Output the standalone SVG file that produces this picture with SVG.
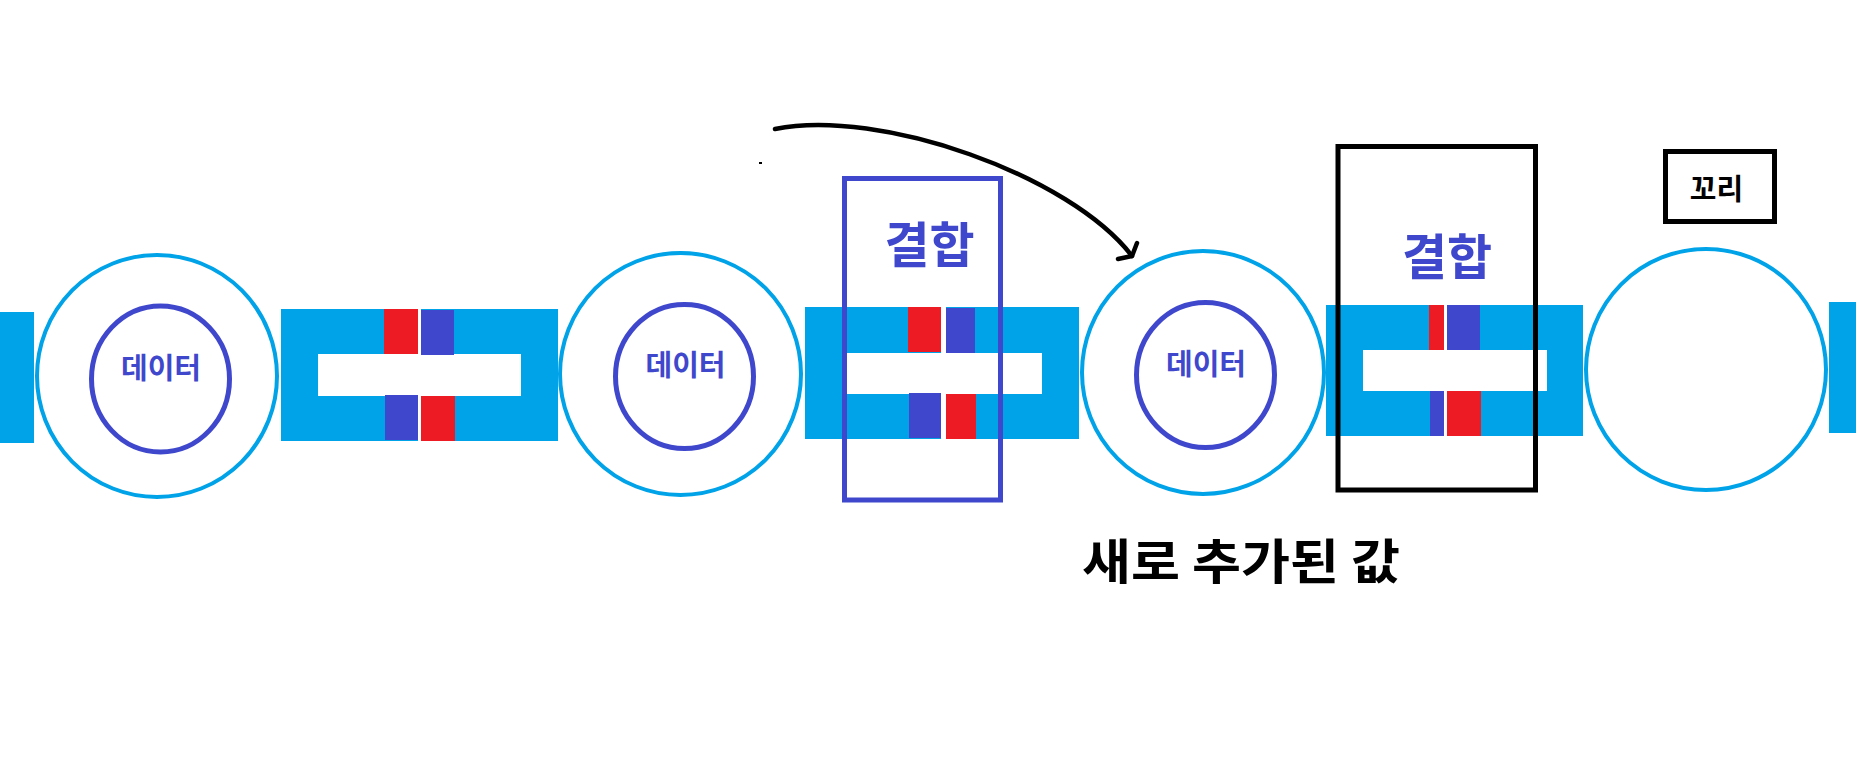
<svg xmlns="http://www.w3.org/2000/svg" width="1873" height="761" viewBox="0 0 1873 761">
<style>
.sky{fill:#00A2E8}
.red{fill:#ED1C24}
.dk{fill:#3F48CC}
.wh{fill:#FFFFFF}
.outer{fill:none;stroke:#00A2E8;stroke-width:4}
.inner{fill:none;stroke:#3F48CC;stroke-width:5}
.lbl{font-family:"Noto Sans CJK KR","Noto Sans",sans-serif;font-weight:700;text-anchor:middle}
.data{font-size:29px;fill:#3F48CC}
.join{font-size:49px;fill:#3F48CC}
.blk{fill:#000000}
</style>
<rect width="1873" height="761" fill="#FFFFFF"/>
<g id="head-bar"><rect class="sky" x="0" y="312" width="34" height="131"/></g>
<g id="node1">
<path class="outer" d="M37,376 a120,121 0 1,0 240,0 a120,121 0 1,0 -240,0 Z"/>
<path class="inner" d="M91.5,379 a69,73 0 1,0 138,0 a69,73 0 1,0 -138,0 Z"/>
<text class="lbl data" x="161" y="379">데이터</text>
</g>
<g id="link1">
<rect class="sky" x="281" y="309" width="277" height="132"/>
<rect class="wh" x="318" y="354" width="203" height="42"/>
<rect class="wh" x="418" y="309" width="3" height="132"/>
<rect class="red" x="384" y="309" width="34" height="45"/>
<rect class="dk" x="421" y="310" width="33" height="45"/>
<rect class="dk" x="385" y="395" width="33" height="45"/>
<rect class="red" x="421" y="396" width="34" height="45"/>
</g>
<g id="node2">
<path class="outer" d="M560,374 a120.5,121 0 1,0 241,0 a120.5,121 0 1,0 -241,0 Z"/>
<path class="inner" d="M615.5,376.5 a69,72 0 1,0 138,0 a69,72 0 1,0 -138,0 Z"/>
<text class="lbl data" x="685.5" y="376">데이터</text>
</g>
<g id="link2">
<rect class="sky" x="805" y="307" width="274" height="132"/>
<rect class="wh" x="842" y="353" width="200" height="41"/>
<rect class="wh" x="941" y="307" width="5" height="132"/>
<rect class="red" x="908" y="307" width="33" height="45"/>
<rect class="dk" x="946" y="308" width="29" height="45"/>
<rect class="dk" x="909" y="393" width="32" height="45"/>
<rect class="red" x="946" y="394" width="30" height="45"/>
<rect x="844.5" y="178.5" width="156" height="321.5" fill="none" stroke="#3F48CC" stroke-width="5"/>
<text class="lbl join" x="929.5" y="263">결합</text>
</g>
<g id="node3">
<path class="outer" d="M1082,372.5 a121,121.5 0 1,0 242,0 a121,121.5 0 1,0 -242,0 Z"/>
<path class="inner" d="M1136.5,375 a69,72.5 0 1,0 138,0 a69,72.5 0 1,0 -138,0 Z"/>
<text class="lbl data" x="1206" y="375">데이터</text>
</g>
<g id="link3">
<rect class="sky" x="1326" y="305" width="257" height="131"/>
<rect class="wh" x="1363" y="350" width="184" height="41"/>
<rect class="wh" x="1444" y="305" width="3" height="131"/>
<rect class="red" x="1429" y="305" width="15" height="45"/>
<rect class="dk" x="1447" y="305" width="33" height="45"/>
<rect class="dk" x="1430" y="391" width="14" height="45"/>
<rect class="red" x="1447" y="391" width="34" height="45"/>
<rect x="1338" y="146.5" width="197.5" height="343.5" fill="none" stroke="#000000" stroke-width="5"/>
<text class="lbl join" x="1447" y="275">결합</text>
</g>
<g id="node4">
<path class="outer" d="M1586,369.5 a120,120.5 0 1,0 240,0 a120,120.5 0 1,0 -240,0 Z"/>
</g>
<g id="tail-bar"><rect class="sky" x="1829" y="302" width="27" height="131"/></g>
<g id="tail-label">
<rect x="1665.5" y="151.5" width="109" height="70" fill="none" stroke="#000000" stroke-width="5"/>
<text class="lbl blk" x="1716.5" y="200" font-size="29">꼬리</text>
</g>
<g id="new-value-label">
<text class="lbl blk" x="1241" y="579" font-size="48" textLength="318" lengthAdjust="spacingAndGlyphs">새로 추가된 값</text>
</g>
<g id="connectors" fill="none" stroke="#000000" stroke-width="4.5" stroke-linecap="round" stroke-linejoin="round">
<path d="M775,129 C880,108 1070,175 1132,256"/>
<path d="M1118,259 L1132,256 L1137,243"/>
<rect x="759" y="162" width="3" height="2" fill="#000000" stroke="none"/>
</g>
</svg>
